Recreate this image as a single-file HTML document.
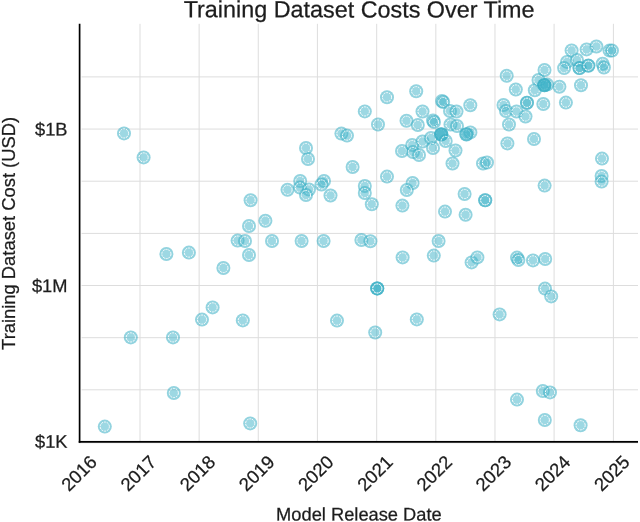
<!DOCTYPE html>
<html lang="en"><head><meta charset="utf-8"><title>Training Dataset Costs Over Time</title>
<style>html,body{margin:0;padding:0;background:#fff}svg{display:block}text{font-family:"Liberation Sans",Arial,Helvetica,sans-serif;fill:#1c1c1c;stroke:#1c1c1c;stroke-width:0.25px}</style></head><body>
<svg width="640" height="522" viewBox="0 0 640 522">
<rect width="640" height="522" fill="#fff"/>
<g stroke="#dddddd" stroke-width="1" fill="none">
<line x1="140" y1="23.8" x2="140" y2="442.0"/>
<line x1="199.13" y1="23.8" x2="199.13" y2="442.0"/>
<line x1="258.27" y1="23.8" x2="258.27" y2="442.0"/>
<line x1="317.4" y1="23.8" x2="317.4" y2="442.0"/>
<line x1="376.7" y1="23.8" x2="376.7" y2="442.0"/>
<line x1="435.83" y1="23.8" x2="435.83" y2="442.0"/>
<line x1="494.97" y1="23.8" x2="494.97" y2="442.0"/>
<line x1="554.1" y1="23.8" x2="554.1" y2="442.0"/>
<line x1="613.4" y1="23.8" x2="613.4" y2="442.0"/>
<line x1="81.6" y1="76.9" x2="638" y2="76.9"/>
<line x1="81.6" y1="129.06" x2="638" y2="129.06"/>
<line x1="81.6" y1="181.2" x2="638" y2="181.2"/>
<line x1="81.6" y1="233.4" x2="638" y2="233.4"/>
<line x1="81.6" y1="285.5" x2="638" y2="285.5"/>
<line x1="81.6" y1="337.7" x2="638" y2="337.7"/>
<line x1="81.6" y1="389.8" x2="638" y2="389.8"/>
</g>
<g>
<g transform="translate(124,133.4)"><circle r="7" fill="#3bb1c7" fill-opacity="0.5"/><circle r="5.75" fill="none" stroke="#2aa6c0" stroke-width="2.3" stroke-opacity="0.09"/><circle r="4.6" fill="none" stroke="#fff" stroke-width="1" stroke-dasharray="2 0.89" stroke-opacity="1"/></g>
<g transform="translate(143.6,157.4)"><circle r="7" fill="#3bb1c7" fill-opacity="0.5"/><circle r="5.75" fill="none" stroke="#2aa6c0" stroke-width="2.3" stroke-opacity="0.09"/><circle r="4.6" fill="none" stroke="#fff" stroke-width="1" stroke-dasharray="2 0.89" stroke-opacity="1"/></g>
<g transform="translate(166.4,254)"><circle r="7" fill="#3bb1c7" fill-opacity="0.5"/><circle r="5.75" fill="none" stroke="#2aa6c0" stroke-width="2.3" stroke-opacity="0.09"/><circle r="4.6" fill="none" stroke="#fff" stroke-width="1" stroke-dasharray="2 0.89" stroke-opacity="1"/></g>
<g transform="translate(188.9,252.6)"><circle r="7" fill="#3bb1c7" fill-opacity="0.5"/><circle r="5.75" fill="none" stroke="#2aa6c0" stroke-width="2.3" stroke-opacity="0.09"/><circle r="4.6" fill="none" stroke="#fff" stroke-width="1" stroke-dasharray="2 0.89" stroke-opacity="1"/></g>
<g transform="translate(130.8,337.4)"><circle r="7" fill="#3bb1c7" fill-opacity="0.5"/><circle r="5.75" fill="none" stroke="#2aa6c0" stroke-width="2.3" stroke-opacity="0.09"/><circle r="4.6" fill="none" stroke="#fff" stroke-width="1" stroke-dasharray="2 0.89" stroke-opacity="1"/></g>
<g transform="translate(173,337.4)"><circle r="7" fill="#3bb1c7" fill-opacity="0.5"/><circle r="5.75" fill="none" stroke="#2aa6c0" stroke-width="2.3" stroke-opacity="0.09"/><circle r="4.6" fill="none" stroke="#fff" stroke-width="1" stroke-dasharray="2 0.89" stroke-opacity="1"/></g>
<g transform="translate(173.8,393)"><circle r="7" fill="#3bb1c7" fill-opacity="0.5"/><circle r="5.75" fill="none" stroke="#2aa6c0" stroke-width="2.3" stroke-opacity="0.09"/><circle r="4.6" fill="none" stroke="#fff" stroke-width="1" stroke-dasharray="2 0.89" stroke-opacity="1"/></g>
<g transform="translate(104.8,426.6)"><circle r="7" fill="#3bb1c7" fill-opacity="0.5"/><circle r="5.75" fill="none" stroke="#2aa6c0" stroke-width="2.3" stroke-opacity="0.09"/><circle r="4.6" fill="none" stroke="#fff" stroke-width="1" stroke-dasharray="2 0.89" stroke-opacity="1"/></g>
<g transform="translate(306,148)"><circle r="7" fill="#3bb1c7" fill-opacity="0.5"/><circle r="5.75" fill="none" stroke="#2aa6c0" stroke-width="2.3" stroke-opacity="0.09"/><circle r="4.6" fill="none" stroke="#fff" stroke-width="1" stroke-dasharray="2 0.89" stroke-opacity="1"/></g>
<g transform="translate(308,159)"><circle r="7" fill="#3bb1c7" fill-opacity="0.5"/><circle r="5.75" fill="none" stroke="#2aa6c0" stroke-width="2.3" stroke-opacity="0.09"/><circle r="4.6" fill="none" stroke="#fff" stroke-width="1" stroke-dasharray="2 0.89" stroke-opacity="1"/></g>
<g transform="translate(300.2,181)"><circle r="7" fill="#3bb1c7" fill-opacity="0.5"/><circle r="5.75" fill="none" stroke="#2aa6c0" stroke-width="2.3" stroke-opacity="0.09"/><circle r="4.6" fill="none" stroke="#fff" stroke-width="1" stroke-dasharray="2 0.89" stroke-opacity="1"/></g>
<g transform="translate(287.5,189.8)"><circle r="7" fill="#3bb1c7" fill-opacity="0.5"/><circle r="5.75" fill="none" stroke="#2aa6c0" stroke-width="2.3" stroke-opacity="0.09"/><circle r="4.6" fill="none" stroke="#fff" stroke-width="1" stroke-dasharray="2 0.89" stroke-opacity="1"/></g>
<g transform="translate(300,187.5)"><circle r="7" fill="#3bb1c7" fill-opacity="0.5"/><circle r="5.75" fill="none" stroke="#2aa6c0" stroke-width="2.3" stroke-opacity="0.09"/><circle r="4.6" fill="none" stroke="#fff" stroke-width="1" stroke-dasharray="2 0.89" stroke-opacity="1"/></g>
<g transform="translate(309,189.5)"><circle r="7" fill="#3bb1c7" fill-opacity="0.5"/><circle r="5.75" fill="none" stroke="#2aa6c0" stroke-width="2.3" stroke-opacity="0.09"/><circle r="4.6" fill="none" stroke="#fff" stroke-width="1" stroke-dasharray="2 0.89" stroke-opacity="1"/></g>
<g transform="translate(306,195)"><circle r="7" fill="#3bb1c7" fill-opacity="0.5"/><circle r="5.75" fill="none" stroke="#2aa6c0" stroke-width="2.3" stroke-opacity="0.09"/><circle r="4.6" fill="none" stroke="#fff" stroke-width="1" stroke-dasharray="2 0.89" stroke-opacity="1"/></g>
<g transform="translate(324,181)"><circle r="7" fill="#3bb1c7" fill-opacity="0.5"/><circle r="5.75" fill="none" stroke="#2aa6c0" stroke-width="2.3" stroke-opacity="0.09"/><circle r="4.6" fill="none" stroke="#fff" stroke-width="1" stroke-dasharray="2 0.89" stroke-opacity="1"/></g>
<g transform="translate(321.5,184.5)"><circle r="7" fill="#3bb1c7" fill-opacity="0.5"/><circle r="5.75" fill="none" stroke="#2aa6c0" stroke-width="2.3" stroke-opacity="0.09"/><circle r="4.6" fill="none" stroke="#fff" stroke-width="1" stroke-dasharray="2 0.89" stroke-opacity="1"/></g>
<g transform="translate(330.5,195.5)"><circle r="7" fill="#3bb1c7" fill-opacity="0.5"/><circle r="5.75" fill="none" stroke="#2aa6c0" stroke-width="2.3" stroke-opacity="0.09"/><circle r="4.6" fill="none" stroke="#fff" stroke-width="1" stroke-dasharray="2 0.89" stroke-opacity="1"/></g>
<g transform="translate(250.6,200.2)"><circle r="7" fill="#3bb1c7" fill-opacity="0.5"/><circle r="5.75" fill="none" stroke="#2aa6c0" stroke-width="2.3" stroke-opacity="0.09"/><circle r="4.6" fill="none" stroke="#fff" stroke-width="1" stroke-dasharray="2 0.89" stroke-opacity="1"/></g>
<g transform="translate(265.4,220.8)"><circle r="7" fill="#3bb1c7" fill-opacity="0.5"/><circle r="5.75" fill="none" stroke="#2aa6c0" stroke-width="2.3" stroke-opacity="0.09"/><circle r="4.6" fill="none" stroke="#fff" stroke-width="1" stroke-dasharray="2 0.89" stroke-opacity="1"/></g>
<g transform="translate(249,226)"><circle r="7" fill="#3bb1c7" fill-opacity="0.5"/><circle r="5.75" fill="none" stroke="#2aa6c0" stroke-width="2.3" stroke-opacity="0.09"/><circle r="4.6" fill="none" stroke="#fff" stroke-width="1" stroke-dasharray="2 0.89" stroke-opacity="1"/></g>
<g transform="translate(237.6,240.6)"><circle r="7" fill="#3bb1c7" fill-opacity="0.5"/><circle r="5.75" fill="none" stroke="#2aa6c0" stroke-width="2.3" stroke-opacity="0.09"/><circle r="4.6" fill="none" stroke="#fff" stroke-width="1" stroke-dasharray="2 0.89" stroke-opacity="1"/></g>
<g transform="translate(245,241)"><circle r="7" fill="#3bb1c7" fill-opacity="0.5"/><circle r="5.75" fill="none" stroke="#2aa6c0" stroke-width="2.3" stroke-opacity="0.09"/><circle r="4.6" fill="none" stroke="#fff" stroke-width="1" stroke-dasharray="2 0.89" stroke-opacity="1"/></g>
<g transform="translate(272,241)"><circle r="7" fill="#3bb1c7" fill-opacity="0.5"/><circle r="5.75" fill="none" stroke="#2aa6c0" stroke-width="2.3" stroke-opacity="0.09"/><circle r="4.6" fill="none" stroke="#fff" stroke-width="1" stroke-dasharray="2 0.89" stroke-opacity="1"/></g>
<g transform="translate(301.6,241)"><circle r="7" fill="#3bb1c7" fill-opacity="0.5"/><circle r="5.75" fill="none" stroke="#2aa6c0" stroke-width="2.3" stroke-opacity="0.09"/><circle r="4.6" fill="none" stroke="#fff" stroke-width="1" stroke-dasharray="2 0.89" stroke-opacity="1"/></g>
<g transform="translate(323.6,241)"><circle r="7" fill="#3bb1c7" fill-opacity="0.5"/><circle r="5.75" fill="none" stroke="#2aa6c0" stroke-width="2.3" stroke-opacity="0.09"/><circle r="4.6" fill="none" stroke="#fff" stroke-width="1" stroke-dasharray="2 0.89" stroke-opacity="1"/></g>
<g transform="translate(249,255)"><circle r="7" fill="#3bb1c7" fill-opacity="0.5"/><circle r="5.75" fill="none" stroke="#2aa6c0" stroke-width="2.3" stroke-opacity="0.09"/><circle r="4.6" fill="none" stroke="#fff" stroke-width="1" stroke-dasharray="2 0.89" stroke-opacity="1"/></g>
<g transform="translate(223.4,268)"><circle r="7" fill="#3bb1c7" fill-opacity="0.5"/><circle r="5.75" fill="none" stroke="#2aa6c0" stroke-width="2.3" stroke-opacity="0.09"/><circle r="4.6" fill="none" stroke="#fff" stroke-width="1" stroke-dasharray="2 0.89" stroke-opacity="1"/></g>
<g transform="translate(212.6,307.4)"><circle r="7" fill="#3bb1c7" fill-opacity="0.5"/><circle r="5.75" fill="none" stroke="#2aa6c0" stroke-width="2.3" stroke-opacity="0.09"/><circle r="4.6" fill="none" stroke="#fff" stroke-width="1" stroke-dasharray="2 0.89" stroke-opacity="1"/></g>
<g transform="translate(202,319.6)"><circle r="7" fill="#3bb1c7" fill-opacity="0.5"/><circle r="5.75" fill="none" stroke="#2aa6c0" stroke-width="2.3" stroke-opacity="0.09"/><circle r="4.6" fill="none" stroke="#fff" stroke-width="1" stroke-dasharray="2 0.89" stroke-opacity="1"/></g>
<g transform="translate(242.8,320.4)"><circle r="7" fill="#3bb1c7" fill-opacity="0.5"/><circle r="5.75" fill="none" stroke="#2aa6c0" stroke-width="2.3" stroke-opacity="0.09"/><circle r="4.6" fill="none" stroke="#fff" stroke-width="1" stroke-dasharray="2 0.89" stroke-opacity="1"/></g>
<g transform="translate(250.2,423.4)"><circle r="7" fill="#3bb1c7" fill-opacity="0.5"/><circle r="5.75" fill="none" stroke="#2aa6c0" stroke-width="2.3" stroke-opacity="0.09"/><circle r="4.6" fill="none" stroke="#fff" stroke-width="1" stroke-dasharray="2 0.89" stroke-opacity="1"/></g>
<g transform="translate(416.2,91.2)"><circle r="7" fill="#3bb1c7" fill-opacity="0.5"/><circle r="5.75" fill="none" stroke="#2aa6c0" stroke-width="2.3" stroke-opacity="0.09"/><circle r="4.6" fill="none" stroke="#fff" stroke-width="1" stroke-dasharray="2 0.89" stroke-opacity="1"/></g>
<g transform="translate(387,97.2)"><circle r="7" fill="#3bb1c7" fill-opacity="0.5"/><circle r="5.75" fill="none" stroke="#2aa6c0" stroke-width="2.3" stroke-opacity="0.09"/><circle r="4.6" fill="none" stroke="#fff" stroke-width="1" stroke-dasharray="2 0.89" stroke-opacity="1"/></g>
<g transform="translate(364.8,111.4)"><circle r="7" fill="#3bb1c7" fill-opacity="0.5"/><circle r="5.75" fill="none" stroke="#2aa6c0" stroke-width="2.3" stroke-opacity="0.09"/><circle r="4.6" fill="none" stroke="#fff" stroke-width="1" stroke-dasharray="2 0.89" stroke-opacity="1"/></g>
<g transform="translate(442,101)"><circle r="7" fill="#3bb1c7" fill-opacity="0.5"/><circle r="5.75" fill="none" stroke="#2aa6c0" stroke-width="2.3" stroke-opacity="0.09"/><circle r="4.6" fill="none" stroke="#fff" stroke-width="1" stroke-dasharray="2 0.89" stroke-opacity="1"/></g>
<g transform="translate(443.2,102)"><circle r="7" fill="#3bb1c7" fill-opacity="0.5"/><circle r="5.75" fill="none" stroke="#2aa6c0" stroke-width="2.3" stroke-opacity="0.09"/><circle r="4.6" fill="none" stroke="#fff" stroke-width="1" stroke-dasharray="2 0.89" stroke-opacity="1"/></g>
<g transform="translate(422.5,111.5)"><circle r="7" fill="#3bb1c7" fill-opacity="0.5"/><circle r="5.75" fill="none" stroke="#2aa6c0" stroke-width="2.3" stroke-opacity="0.09"/><circle r="4.6" fill="none" stroke="#fff" stroke-width="1" stroke-dasharray="2 0.89" stroke-opacity="1"/></g>
<g transform="translate(378,124.5)"><circle r="7" fill="#3bb1c7" fill-opacity="0.5"/><circle r="5.75" fill="none" stroke="#2aa6c0" stroke-width="2.3" stroke-opacity="0.09"/><circle r="4.6" fill="none" stroke="#fff" stroke-width="1" stroke-dasharray="2 0.89" stroke-opacity="1"/></g>
<g transform="translate(406.5,120.8)"><circle r="7" fill="#3bb1c7" fill-opacity="0.5"/><circle r="5.75" fill="none" stroke="#2aa6c0" stroke-width="2.3" stroke-opacity="0.09"/><circle r="4.6" fill="none" stroke="#fff" stroke-width="1" stroke-dasharray="2 0.89" stroke-opacity="1"/></g>
<g transform="translate(417.8,125)"><circle r="7" fill="#3bb1c7" fill-opacity="0.5"/><circle r="5.75" fill="none" stroke="#2aa6c0" stroke-width="2.3" stroke-opacity="0.09"/><circle r="4.6" fill="none" stroke="#fff" stroke-width="1" stroke-dasharray="2 0.89" stroke-opacity="1"/></g>
<g transform="translate(433,120.5)"><circle r="7" fill="#3bb1c7" fill-opacity="0.5"/><circle r="5.75" fill="none" stroke="#2aa6c0" stroke-width="2.3" stroke-opacity="0.09"/><circle r="4.6" fill="none" stroke="#fff" stroke-width="1" stroke-dasharray="2 0.89" stroke-opacity="1"/></g>
<g transform="translate(434,122)"><circle r="7" fill="#3bb1c7" fill-opacity="0.5"/><circle r="5.75" fill="none" stroke="#2aa6c0" stroke-width="2.3" stroke-opacity="0.09"/><circle r="4.6" fill="none" stroke="#fff" stroke-width="1" stroke-dasharray="2 0.89" stroke-opacity="1"/></g>
<g transform="translate(450,111)"><circle r="7" fill="#3bb1c7" fill-opacity="0.5"/><circle r="5.75" fill="none" stroke="#2aa6c0" stroke-width="2.3" stroke-opacity="0.09"/><circle r="4.6" fill="none" stroke="#fff" stroke-width="1" stroke-dasharray="2 0.89" stroke-opacity="1"/></g>
<g transform="translate(456.5,111.5)"><circle r="7" fill="#3bb1c7" fill-opacity="0.5"/><circle r="5.75" fill="none" stroke="#2aa6c0" stroke-width="2.3" stroke-opacity="0.09"/><circle r="4.6" fill="none" stroke="#fff" stroke-width="1" stroke-dasharray="2 0.89" stroke-opacity="1"/></g>
<g transform="translate(450.5,124.5)"><circle r="7" fill="#3bb1c7" fill-opacity="0.5"/><circle r="5.75" fill="none" stroke="#2aa6c0" stroke-width="2.3" stroke-opacity="0.09"/><circle r="4.6" fill="none" stroke="#fff" stroke-width="1" stroke-dasharray="2 0.89" stroke-opacity="1"/></g>
<g transform="translate(457,126)"><circle r="7" fill="#3bb1c7" fill-opacity="0.5"/><circle r="5.75" fill="none" stroke="#2aa6c0" stroke-width="2.3" stroke-opacity="0.09"/><circle r="4.6" fill="none" stroke="#fff" stroke-width="1" stroke-dasharray="2 0.89" stroke-opacity="1"/></g>
<g transform="translate(470.3,105.2)"><circle r="7" fill="#3bb1c7" fill-opacity="0.5"/><circle r="5.75" fill="none" stroke="#2aa6c0" stroke-width="2.3" stroke-opacity="0.09"/><circle r="4.6" fill="none" stroke="#fff" stroke-width="1" stroke-dasharray="2 0.89" stroke-opacity="1"/></g>
<g transform="translate(341.4,133.6)"><circle r="7" fill="#3bb1c7" fill-opacity="0.5"/><circle r="5.75" fill="none" stroke="#2aa6c0" stroke-width="2.3" stroke-opacity="0.09"/><circle r="4.6" fill="none" stroke="#fff" stroke-width="1" stroke-dasharray="2 0.89" stroke-opacity="1"/></g>
<g transform="translate(347,135.6)"><circle r="7" fill="#3bb1c7" fill-opacity="0.5"/><circle r="5.75" fill="none" stroke="#2aa6c0" stroke-width="2.3" stroke-opacity="0.09"/><circle r="4.6" fill="none" stroke="#fff" stroke-width="1" stroke-dasharray="2 0.89" stroke-opacity="1"/></g>
<g transform="translate(352.6,167)"><circle r="7" fill="#3bb1c7" fill-opacity="0.5"/><circle r="5.75" fill="none" stroke="#2aa6c0" stroke-width="2.3" stroke-opacity="0.09"/><circle r="4.6" fill="none" stroke="#fff" stroke-width="1" stroke-dasharray="2 0.89" stroke-opacity="1"/></g>
<g transform="translate(364.8,186)"><circle r="7" fill="#3bb1c7" fill-opacity="0.5"/><circle r="5.75" fill="none" stroke="#2aa6c0" stroke-width="2.3" stroke-opacity="0.09"/><circle r="4.6" fill="none" stroke="#fff" stroke-width="1" stroke-dasharray="2 0.89" stroke-opacity="1"/></g>
<g transform="translate(364.8,193)"><circle r="7" fill="#3bb1c7" fill-opacity="0.5"/><circle r="5.75" fill="none" stroke="#2aa6c0" stroke-width="2.3" stroke-opacity="0.09"/><circle r="4.6" fill="none" stroke="#fff" stroke-width="1" stroke-dasharray="2 0.89" stroke-opacity="1"/></g>
<g transform="translate(371.8,204.2)"><circle r="7" fill="#3bb1c7" fill-opacity="0.5"/><circle r="5.75" fill="none" stroke="#2aa6c0" stroke-width="2.3" stroke-opacity="0.09"/><circle r="4.6" fill="none" stroke="#fff" stroke-width="1" stroke-dasharray="2 0.89" stroke-opacity="1"/></g>
<g transform="translate(387,176.6)"><circle r="7" fill="#3bb1c7" fill-opacity="0.5"/><circle r="5.75" fill="none" stroke="#2aa6c0" stroke-width="2.3" stroke-opacity="0.09"/><circle r="4.6" fill="none" stroke="#fff" stroke-width="1" stroke-dasharray="2 0.89" stroke-opacity="1"/></g>
<g transform="translate(412.6,183)"><circle r="7" fill="#3bb1c7" fill-opacity="0.5"/><circle r="5.75" fill="none" stroke="#2aa6c0" stroke-width="2.3" stroke-opacity="0.09"/><circle r="4.6" fill="none" stroke="#fff" stroke-width="1" stroke-dasharray="2 0.89" stroke-opacity="1"/></g>
<g transform="translate(406.8,190)"><circle r="7" fill="#3bb1c7" fill-opacity="0.5"/><circle r="5.75" fill="none" stroke="#2aa6c0" stroke-width="2.3" stroke-opacity="0.09"/><circle r="4.6" fill="none" stroke="#fff" stroke-width="1" stroke-dasharray="2 0.89" stroke-opacity="1"/></g>
<g transform="translate(402.4,205.6)"><circle r="7" fill="#3bb1c7" fill-opacity="0.5"/><circle r="5.75" fill="none" stroke="#2aa6c0" stroke-width="2.3" stroke-opacity="0.09"/><circle r="4.6" fill="none" stroke="#fff" stroke-width="1" stroke-dasharray="2 0.89" stroke-opacity="1"/></g>
<g transform="translate(445,211.6)"><circle r="7" fill="#3bb1c7" fill-opacity="0.5"/><circle r="5.75" fill="none" stroke="#2aa6c0" stroke-width="2.3" stroke-opacity="0.09"/><circle r="4.6" fill="none" stroke="#fff" stroke-width="1" stroke-dasharray="2 0.89" stroke-opacity="1"/></g>
<g transform="translate(402,151)"><circle r="7" fill="#3bb1c7" fill-opacity="0.5"/><circle r="5.75" fill="none" stroke="#2aa6c0" stroke-width="2.3" stroke-opacity="0.09"/><circle r="4.6" fill="none" stroke="#fff" stroke-width="1" stroke-dasharray="2 0.89" stroke-opacity="1"/></g>
<g transform="translate(412.2,145)"><circle r="7" fill="#3bb1c7" fill-opacity="0.5"/><circle r="5.75" fill="none" stroke="#2aa6c0" stroke-width="2.3" stroke-opacity="0.09"/><circle r="4.6" fill="none" stroke="#fff" stroke-width="1" stroke-dasharray="2 0.89" stroke-opacity="1"/></g>
<g transform="translate(413,152)"><circle r="7" fill="#3bb1c7" fill-opacity="0.5"/><circle r="5.75" fill="none" stroke="#2aa6c0" stroke-width="2.3" stroke-opacity="0.09"/><circle r="4.6" fill="none" stroke="#fff" stroke-width="1" stroke-dasharray="2 0.89" stroke-opacity="1"/></g>
<g transform="translate(419,155)"><circle r="7" fill="#3bb1c7" fill-opacity="0.5"/><circle r="5.75" fill="none" stroke="#2aa6c0" stroke-width="2.3" stroke-opacity="0.09"/><circle r="4.6" fill="none" stroke="#fff" stroke-width="1" stroke-dasharray="2 0.89" stroke-opacity="1"/></g>
<g transform="translate(422.5,141.5)"><circle r="7" fill="#3bb1c7" fill-opacity="0.5"/><circle r="5.75" fill="none" stroke="#2aa6c0" stroke-width="2.3" stroke-opacity="0.09"/><circle r="4.6" fill="none" stroke="#fff" stroke-width="1" stroke-dasharray="2 0.89" stroke-opacity="1"/></g>
<g transform="translate(431,138)"><circle r="7" fill="#3bb1c7" fill-opacity="0.5"/><circle r="5.75" fill="none" stroke="#2aa6c0" stroke-width="2.3" stroke-opacity="0.09"/><circle r="4.6" fill="none" stroke="#fff" stroke-width="1" stroke-dasharray="2 0.89" stroke-opacity="1"/></g>
<g transform="translate(433,148)"><circle r="7" fill="#3bb1c7" fill-opacity="0.5"/><circle r="5.75" fill="none" stroke="#2aa6c0" stroke-width="2.3" stroke-opacity="0.09"/><circle r="4.6" fill="none" stroke="#fff" stroke-width="1" stroke-dasharray="2 0.89" stroke-opacity="1"/></g>
<g transform="translate(441,134.2)"><circle r="7" fill="#3bb1c7" fill-opacity="0.5"/><circle r="5.75" fill="none" stroke="#2aa6c0" stroke-width="2.3" stroke-opacity="0.09"/><circle r="4.6" fill="none" stroke="#fff" stroke-width="1" stroke-dasharray="2 0.89" stroke-opacity="1"/></g>
<g transform="translate(441.3,134.5)"><circle r="7" fill="#3bb1c7" fill-opacity="0.5"/><circle r="5.75" fill="none" stroke="#2aa6c0" stroke-width="2.3" stroke-opacity="0.09"/></g>
<g transform="translate(441.4,134.4)"><circle r="7" fill="#3bb1c7" fill-opacity="0.5"/><circle r="5.75" fill="none" stroke="#2aa6c0" stroke-width="2.3" stroke-opacity="0.09"/></g>
<g transform="translate(445.7,141)"><circle r="7" fill="#3bb1c7" fill-opacity="0.5"/><circle r="5.75" fill="none" stroke="#2aa6c0" stroke-width="2.3" stroke-opacity="0.09"/><circle r="4.6" fill="none" stroke="#fff" stroke-width="1" stroke-dasharray="2 0.89" stroke-opacity="1"/></g>
<g transform="translate(455.5,150.5)"><circle r="7" fill="#3bb1c7" fill-opacity="0.5"/><circle r="5.75" fill="none" stroke="#2aa6c0" stroke-width="2.3" stroke-opacity="0.09"/><circle r="4.6" fill="none" stroke="#fff" stroke-width="1" stroke-dasharray="2 0.89" stroke-opacity="1"/></g>
<g transform="translate(452.5,163.5)"><circle r="7" fill="#3bb1c7" fill-opacity="0.5"/><circle r="5.75" fill="none" stroke="#2aa6c0" stroke-width="2.3" stroke-opacity="0.09"/><circle r="4.6" fill="none" stroke="#fff" stroke-width="1" stroke-dasharray="2 0.89" stroke-opacity="1"/></g>
<g transform="translate(470.4,132.4)"><circle r="7" fill="#3bb1c7" fill-opacity="0.5"/><circle r="5.75" fill="none" stroke="#2aa6c0" stroke-width="2.3" stroke-opacity="0.09"/><circle r="4.6" fill="none" stroke="#fff" stroke-width="1" stroke-dasharray="2 0.89" stroke-opacity="1"/></g>
<g transform="translate(466.3,134.3)"><circle r="7" fill="#3bb1c7" fill-opacity="0.5"/><circle r="5.75" fill="none" stroke="#2aa6c0" stroke-width="2.3" stroke-opacity="0.09"/><circle r="4.6" fill="none" stroke="#fff" stroke-width="1" stroke-dasharray="2 0.89" stroke-opacity="1"/></g>
<g transform="translate(466.5,134.5)"><circle r="7" fill="#3bb1c7" fill-opacity="0.5"/><circle r="5.75" fill="none" stroke="#2aa6c0" stroke-width="2.3" stroke-opacity="0.09"/></g>
<g transform="translate(483,163.5)"><circle r="7" fill="#3bb1c7" fill-opacity="0.5"/><circle r="5.75" fill="none" stroke="#2aa6c0" stroke-width="2.3" stroke-opacity="0.09"/><circle r="4.6" fill="none" stroke="#fff" stroke-width="1" stroke-dasharray="2 0.89" stroke-opacity="1"/></g>
<g transform="translate(487,162.5)"><circle r="7" fill="#3bb1c7" fill-opacity="0.5"/><circle r="5.75" fill="none" stroke="#2aa6c0" stroke-width="2.3" stroke-opacity="0.09"/><circle r="4.6" fill="none" stroke="#fff" stroke-width="1" stroke-dasharray="2 0.89" stroke-opacity="1"/></g>
<g transform="translate(361.4,240)"><circle r="7" fill="#3bb1c7" fill-opacity="0.5"/><circle r="5.75" fill="none" stroke="#2aa6c0" stroke-width="2.3" stroke-opacity="0.09"/><circle r="4.6" fill="none" stroke="#fff" stroke-width="1" stroke-dasharray="2 0.89" stroke-opacity="1"/></g>
<g transform="translate(370.4,241.2)"><circle r="7" fill="#3bb1c7" fill-opacity="0.5"/><circle r="5.75" fill="none" stroke="#2aa6c0" stroke-width="2.3" stroke-opacity="0.09"/><circle r="4.6" fill="none" stroke="#fff" stroke-width="1" stroke-dasharray="2 0.89" stroke-opacity="1"/></g>
<g transform="translate(438.6,241)"><circle r="7" fill="#3bb1c7" fill-opacity="0.5"/><circle r="5.75" fill="none" stroke="#2aa6c0" stroke-width="2.3" stroke-opacity="0.09"/><circle r="4.6" fill="none" stroke="#fff" stroke-width="1" stroke-dasharray="2 0.89" stroke-opacity="1"/></g>
<g transform="translate(402.6,257.4)"><circle r="7" fill="#3bb1c7" fill-opacity="0.5"/><circle r="5.75" fill="none" stroke="#2aa6c0" stroke-width="2.3" stroke-opacity="0.09"/><circle r="4.6" fill="none" stroke="#fff" stroke-width="1" stroke-dasharray="2 0.89" stroke-opacity="1"/></g>
<g transform="translate(433.8,255.6)"><circle r="7" fill="#3bb1c7" fill-opacity="0.5"/><circle r="5.75" fill="none" stroke="#2aa6c0" stroke-width="2.3" stroke-opacity="0.09"/><circle r="4.6" fill="none" stroke="#fff" stroke-width="1" stroke-dasharray="2 0.89" stroke-opacity="1"/></g>
<g transform="translate(377.2,288.4)"><circle r="7" fill="#3bb1c7" fill-opacity="0.5"/><circle r="5.75" fill="none" stroke="#2aa6c0" stroke-width="2.3" stroke-opacity="0.09"/><circle r="4.6" fill="none" stroke="#fff" stroke-width="1" stroke-dasharray="2 0.89" stroke-opacity="1"/></g>
<g transform="translate(377.2,288.4)"><circle r="7" fill="#3bb1c7" fill-opacity="0.5"/><circle r="5.75" fill="none" stroke="#2aa6c0" stroke-width="2.3" stroke-opacity="0.09"/><circle r="4.6" fill="none" stroke="#fff" stroke-width="1" stroke-dasharray="2 0.89" stroke-opacity="1"/></g>
<g transform="translate(377.3,288.5)"><circle r="7" fill="#3bb1c7" fill-opacity="0.5"/><circle r="5.75" fill="none" stroke="#2aa6c0" stroke-width="2.3" stroke-opacity="0.09"/><circle r="4.6" fill="none" stroke="#fff" stroke-width="1" stroke-dasharray="2 0.89" stroke-opacity="1"/></g>
<g transform="translate(337,320.6)"><circle r="7" fill="#3bb1c7" fill-opacity="0.5"/><circle r="5.75" fill="none" stroke="#2aa6c0" stroke-width="2.3" stroke-opacity="0.09"/><circle r="4.6" fill="none" stroke="#fff" stroke-width="1" stroke-dasharray="2 0.89" stroke-opacity="1"/></g>
<g transform="translate(416.8,319.4)"><circle r="7" fill="#3bb1c7" fill-opacity="0.5"/><circle r="5.75" fill="none" stroke="#2aa6c0" stroke-width="2.3" stroke-opacity="0.09"/><circle r="4.6" fill="none" stroke="#fff" stroke-width="1" stroke-dasharray="2 0.89" stroke-opacity="1"/></g>
<g transform="translate(375.2,332.5)"><circle r="7" fill="#3bb1c7" fill-opacity="0.5"/><circle r="5.75" fill="none" stroke="#2aa6c0" stroke-width="2.3" stroke-opacity="0.09"/><circle r="4.6" fill="none" stroke="#fff" stroke-width="1" stroke-dasharray="2 0.89" stroke-opacity="1"/></g>
<g transform="translate(506.7,75.8)"><circle r="7" fill="#3bb1c7" fill-opacity="0.5"/><circle r="5.75" fill="none" stroke="#2aa6c0" stroke-width="2.3" stroke-opacity="0.09"/><circle r="4.6" fill="none" stroke="#fff" stroke-width="1" stroke-dasharray="2 0.89" stroke-opacity="1"/></g>
<g transform="translate(515.8,89.5)"><circle r="7" fill="#3bb1c7" fill-opacity="0.5"/><circle r="5.75" fill="none" stroke="#2aa6c0" stroke-width="2.3" stroke-opacity="0.09"/><circle r="4.6" fill="none" stroke="#fff" stroke-width="1" stroke-dasharray="2 0.89" stroke-opacity="1"/></g>
<g transform="translate(527,102.8)"><circle r="7" fill="#3bb1c7" fill-opacity="0.5"/><circle r="5.75" fill="none" stroke="#2aa6c0" stroke-width="2.3" stroke-opacity="0.09"/><circle r="4.6" fill="none" stroke="#fff" stroke-width="1" stroke-dasharray="2 0.89" stroke-opacity="1"/></g>
<g transform="translate(527,102.8)"><circle r="7" fill="#3bb1c7" fill-opacity="0.5"/><circle r="5.75" fill="none" stroke="#2aa6c0" stroke-width="2.3" stroke-opacity="0.09"/><circle r="4.6" fill="none" stroke="#fff" stroke-width="1" stroke-dasharray="2 0.89" stroke-opacity="1"/></g>
<g transform="translate(543.3,104)"><circle r="7" fill="#3bb1c7" fill-opacity="0.5"/><circle r="5.75" fill="none" stroke="#2aa6c0" stroke-width="2.3" stroke-opacity="0.09"/><circle r="4.6" fill="none" stroke="#fff" stroke-width="1" stroke-dasharray="2 0.89" stroke-opacity="1"/></g>
<g transform="translate(534.8,90.2)"><circle r="7" fill="#3bb1c7" fill-opacity="0.5"/><circle r="5.75" fill="none" stroke="#2aa6c0" stroke-width="2.3" stroke-opacity="0.09"/><circle r="4.6" fill="none" stroke="#fff" stroke-width="1" stroke-dasharray="2 0.89" stroke-opacity="1"/></g>
<g transform="translate(538.5,80)"><circle r="7" fill="#3bb1c7" fill-opacity="0.5"/><circle r="5.75" fill="none" stroke="#2aa6c0" stroke-width="2.3" stroke-opacity="0.09"/><circle r="4.6" fill="none" stroke="#fff" stroke-width="1" stroke-dasharray="2 0.89" stroke-opacity="1"/></g>
<g transform="translate(544.5,70)"><circle r="7" fill="#3bb1c7" fill-opacity="0.5"/><circle r="5.75" fill="none" stroke="#2aa6c0" stroke-width="2.3" stroke-opacity="0.09"/><circle r="4.6" fill="none" stroke="#fff" stroke-width="1" stroke-dasharray="2 0.89" stroke-opacity="1"/></g>
<g transform="translate(547.2,84.6)"><circle r="7" fill="#3bb1c7" fill-opacity="0.5"/><circle r="5.75" fill="none" stroke="#2aa6c0" stroke-width="2.3" stroke-opacity="0.09"/><circle r="4.6" fill="none" stroke="#fff" stroke-width="1" stroke-dasharray="2 0.89" stroke-opacity="1"/></g>
<g transform="translate(544.2,85.1)"><circle r="7" fill="#3bb1c7" fill-opacity="0.5"/><circle r="5.75" fill="none" stroke="#2aa6c0" stroke-width="2.3" stroke-opacity="0.09"/><circle r="4.6" fill="none" stroke="#fff" stroke-width="1" stroke-dasharray="2 0.89" stroke-opacity="1"/></g>
<g transform="translate(544.4,85.3)"><circle r="7" fill="#3bb1c7" fill-opacity="0.5"/><circle r="5.75" fill="none" stroke="#2aa6c0" stroke-width="2.3" stroke-opacity="0.09"/></g>
<g transform="translate(544.5,85.2)"><circle r="7" fill="#3bb1c7" fill-opacity="0.5"/><circle r="5.75" fill="none" stroke="#2aa6c0" stroke-width="2.3" stroke-opacity="0.09"/></g>
<g transform="translate(559.4,86.7)"><circle r="7" fill="#3bb1c7" fill-opacity="0.5"/><circle r="5.75" fill="none" stroke="#2aa6c0" stroke-width="2.3" stroke-opacity="0.09"/><circle r="4.6" fill="none" stroke="#fff" stroke-width="1" stroke-dasharray="2 0.89" stroke-opacity="1"/></g>
<g transform="translate(503.5,105)"><circle r="7" fill="#3bb1c7" fill-opacity="0.5"/><circle r="5.75" fill="none" stroke="#2aa6c0" stroke-width="2.3" stroke-opacity="0.09"/><circle r="4.6" fill="none" stroke="#fff" stroke-width="1" stroke-dasharray="2 0.89" stroke-opacity="1"/></g>
<g transform="translate(506,111)"><circle r="7" fill="#3bb1c7" fill-opacity="0.5"/><circle r="5.75" fill="none" stroke="#2aa6c0" stroke-width="2.3" stroke-opacity="0.09"/><circle r="4.6" fill="none" stroke="#fff" stroke-width="1" stroke-dasharray="2 0.89" stroke-opacity="1"/></g>
<g transform="translate(516.5,111.5)"><circle r="7" fill="#3bb1c7" fill-opacity="0.5"/><circle r="5.75" fill="none" stroke="#2aa6c0" stroke-width="2.3" stroke-opacity="0.09"/><circle r="4.6" fill="none" stroke="#fff" stroke-width="1" stroke-dasharray="2 0.89" stroke-opacity="1"/></g>
<g transform="translate(525.5,116.5)"><circle r="7" fill="#3bb1c7" fill-opacity="0.5"/><circle r="5.75" fill="none" stroke="#2aa6c0" stroke-width="2.3" stroke-opacity="0.09"/><circle r="4.6" fill="none" stroke="#fff" stroke-width="1" stroke-dasharray="2 0.89" stroke-opacity="1"/></g>
<g transform="translate(565.9,102.6)"><circle r="7" fill="#3bb1c7" fill-opacity="0.5"/><circle r="5.75" fill="none" stroke="#2aa6c0" stroke-width="2.3" stroke-opacity="0.09"/><circle r="4.6" fill="none" stroke="#fff" stroke-width="1" stroke-dasharray="2 0.89" stroke-opacity="1"/></g>
<g transform="translate(581,85.2)"><circle r="7" fill="#3bb1c7" fill-opacity="0.5"/><circle r="5.75" fill="none" stroke="#2aa6c0" stroke-width="2.3" stroke-opacity="0.09"/><circle r="4.6" fill="none" stroke="#fff" stroke-width="1" stroke-dasharray="2 0.89" stroke-opacity="1"/></g>
<g transform="translate(571.6,50.4)"><circle r="7" fill="#3bb1c7" fill-opacity="0.5"/><circle r="5.75" fill="none" stroke="#2aa6c0" stroke-width="2.3" stroke-opacity="0.09"/><circle r="4.6" fill="none" stroke="#fff" stroke-width="1" stroke-dasharray="2 0.89" stroke-opacity="1"/></g>
<g transform="translate(586.6,49.4)"><circle r="7" fill="#3bb1c7" fill-opacity="0.5"/><circle r="5.75" fill="none" stroke="#2aa6c0" stroke-width="2.3" stroke-opacity="0.09"/><circle r="4.6" fill="none" stroke="#fff" stroke-width="1" stroke-dasharray="2 0.89" stroke-opacity="1"/></g>
<g transform="translate(596.4,46.5)"><circle r="7" fill="#3bb1c7" fill-opacity="0.5"/><circle r="5.75" fill="none" stroke="#2aa6c0" stroke-width="2.3" stroke-opacity="0.09"/><circle r="4.6" fill="none" stroke="#fff" stroke-width="1" stroke-dasharray="2 0.89" stroke-opacity="1"/></g>
<g transform="translate(609.5,50.6)"><circle r="7" fill="#3bb1c7" fill-opacity="0.5"/><circle r="5.75" fill="none" stroke="#2aa6c0" stroke-width="2.3" stroke-opacity="0.09"/><circle r="4.6" fill="none" stroke="#fff" stroke-width="1" stroke-dasharray="2 0.89" stroke-opacity="1"/></g>
<g transform="translate(612,50.6)"><circle r="7" fill="#3bb1c7" fill-opacity="0.5"/><circle r="5.75" fill="none" stroke="#2aa6c0" stroke-width="2.3" stroke-opacity="0.09"/><circle r="4.6" fill="none" stroke="#fff" stroke-width="1" stroke-dasharray="2 0.89" stroke-opacity="1"/></g>
<g transform="translate(567,61.9)"><circle r="7" fill="#3bb1c7" fill-opacity="0.5"/><circle r="5.75" fill="none" stroke="#2aa6c0" stroke-width="2.3" stroke-opacity="0.09"/><circle r="4.6" fill="none" stroke="#fff" stroke-width="1" stroke-dasharray="2 0.89" stroke-opacity="1"/></g>
<g transform="translate(577,60)"><circle r="7" fill="#3bb1c7" fill-opacity="0.5"/><circle r="5.75" fill="none" stroke="#2aa6c0" stroke-width="2.3" stroke-opacity="0.09"/><circle r="4.6" fill="none" stroke="#fff" stroke-width="1" stroke-dasharray="2 0.89" stroke-opacity="1"/></g>
<g transform="translate(564.1,68.1)"><circle r="7" fill="#3bb1c7" fill-opacity="0.5"/><circle r="5.75" fill="none" stroke="#2aa6c0" stroke-width="2.3" stroke-opacity="0.09"/><circle r="4.6" fill="none" stroke="#fff" stroke-width="1" stroke-dasharray="2 0.89" stroke-opacity="1"/></g>
<g transform="translate(579.5,68.1)"><circle r="7" fill="#3bb1c7" fill-opacity="0.5"/><circle r="5.75" fill="none" stroke="#2aa6c0" stroke-width="2.3" stroke-opacity="0.09"/><circle r="4.6" fill="none" stroke="#fff" stroke-width="1" stroke-dasharray="2 0.89" stroke-opacity="1"/></g>
<g transform="translate(579.5,68.1)"><circle r="7" fill="#3bb1c7" fill-opacity="0.5"/><circle r="5.75" fill="none" stroke="#2aa6c0" stroke-width="2.3" stroke-opacity="0.09"/><circle r="4.6" fill="none" stroke="#fff" stroke-width="1" stroke-dasharray="2 0.89" stroke-opacity="1"/></g>
<g transform="translate(588.3,65.6)"><circle r="7" fill="#3bb1c7" fill-opacity="0.5"/><circle r="5.75" fill="none" stroke="#2aa6c0" stroke-width="2.3" stroke-opacity="0.09"/><circle r="4.6" fill="none" stroke="#fff" stroke-width="1" stroke-dasharray="2 0.89" stroke-opacity="1"/></g>
<g transform="translate(588.4,65.7)"><circle r="7" fill="#3bb1c7" fill-opacity="0.5"/><circle r="5.75" fill="none" stroke="#2aa6c0" stroke-width="2.3" stroke-opacity="0.09"/><circle r="4.6" fill="none" stroke="#fff" stroke-width="1" stroke-dasharray="2 0.89" stroke-opacity="1"/></g>
<g transform="translate(602.6,63.75)"><circle r="7" fill="#3bb1c7" fill-opacity="0.5"/><circle r="5.75" fill="none" stroke="#2aa6c0" stroke-width="2.3" stroke-opacity="0.09"/><circle r="4.6" fill="none" stroke="#fff" stroke-width="1" stroke-dasharray="2 0.89" stroke-opacity="1"/></g>
<g transform="translate(603.9,67.5)"><circle r="7" fill="#3bb1c7" fill-opacity="0.5"/><circle r="5.75" fill="none" stroke="#2aa6c0" stroke-width="2.3" stroke-opacity="0.09"/><circle r="4.6" fill="none" stroke="#fff" stroke-width="1" stroke-dasharray="2 0.89" stroke-opacity="1"/></g>
<g transform="translate(509,124.5)"><circle r="7" fill="#3bb1c7" fill-opacity="0.5"/><circle r="5.75" fill="none" stroke="#2aa6c0" stroke-width="2.3" stroke-opacity="0.09"/><circle r="4.6" fill="none" stroke="#fff" stroke-width="1" stroke-dasharray="2 0.89" stroke-opacity="1"/></g>
<g transform="translate(507.4,143.4)"><circle r="7" fill="#3bb1c7" fill-opacity="0.5"/><circle r="5.75" fill="none" stroke="#2aa6c0" stroke-width="2.3" stroke-opacity="0.09"/><circle r="4.6" fill="none" stroke="#fff" stroke-width="1" stroke-dasharray="2 0.89" stroke-opacity="1"/></g>
<g transform="translate(534,139)"><circle r="7" fill="#3bb1c7" fill-opacity="0.5"/><circle r="5.75" fill="none" stroke="#2aa6c0" stroke-width="2.3" stroke-opacity="0.09"/><circle r="4.6" fill="none" stroke="#fff" stroke-width="1" stroke-dasharray="2 0.89" stroke-opacity="1"/></g>
<g transform="translate(544.6,185.6)"><circle r="7" fill="#3bb1c7" fill-opacity="0.5"/><circle r="5.75" fill="none" stroke="#2aa6c0" stroke-width="2.3" stroke-opacity="0.09"/><circle r="4.6" fill="none" stroke="#fff" stroke-width="1" stroke-dasharray="2 0.89" stroke-opacity="1"/></g>
<g transform="translate(464.6,194)"><circle r="7" fill="#3bb1c7" fill-opacity="0.5"/><circle r="5.75" fill="none" stroke="#2aa6c0" stroke-width="2.3" stroke-opacity="0.09"/><circle r="4.6" fill="none" stroke="#fff" stroke-width="1" stroke-dasharray="2 0.89" stroke-opacity="1"/></g>
<g transform="translate(485.2,200.2)"><circle r="7" fill="#3bb1c7" fill-opacity="0.5"/><circle r="5.75" fill="none" stroke="#2aa6c0" stroke-width="2.3" stroke-opacity="0.09"/><circle r="4.6" fill="none" stroke="#fff" stroke-width="1" stroke-dasharray="2 0.89" stroke-opacity="1"/></g>
<g transform="translate(485.2,200.2)"><circle r="7" fill="#3bb1c7" fill-opacity="0.5"/><circle r="5.75" fill="none" stroke="#2aa6c0" stroke-width="2.3" stroke-opacity="0.09"/><circle r="4.6" fill="none" stroke="#fff" stroke-width="1" stroke-dasharray="2 0.89" stroke-opacity="1"/></g>
<g transform="translate(465.6,214.8)"><circle r="7" fill="#3bb1c7" fill-opacity="0.5"/><circle r="5.75" fill="none" stroke="#2aa6c0" stroke-width="2.3" stroke-opacity="0.09"/><circle r="4.6" fill="none" stroke="#fff" stroke-width="1" stroke-dasharray="2 0.89" stroke-opacity="1"/></g>
<g transform="translate(471.6,262.4)"><circle r="7" fill="#3bb1c7" fill-opacity="0.5"/><circle r="5.75" fill="none" stroke="#2aa6c0" stroke-width="2.3" stroke-opacity="0.09"/><circle r="4.6" fill="none" stroke="#fff" stroke-width="1" stroke-dasharray="2 0.89" stroke-opacity="1"/></g>
<g transform="translate(477.4,257.4)"><circle r="7" fill="#3bb1c7" fill-opacity="0.5"/><circle r="5.75" fill="none" stroke="#2aa6c0" stroke-width="2.3" stroke-opacity="0.09"/><circle r="4.6" fill="none" stroke="#fff" stroke-width="1" stroke-dasharray="2 0.89" stroke-opacity="1"/></g>
<g transform="translate(517,257.6)"><circle r="7" fill="#3bb1c7" fill-opacity="0.5"/><circle r="5.75" fill="none" stroke="#2aa6c0" stroke-width="2.3" stroke-opacity="0.09"/><circle r="4.6" fill="none" stroke="#fff" stroke-width="1" stroke-dasharray="2 0.89" stroke-opacity="1"/></g>
<g transform="translate(518.4,260)"><circle r="7" fill="#3bb1c7" fill-opacity="0.5"/><circle r="5.75" fill="none" stroke="#2aa6c0" stroke-width="2.3" stroke-opacity="0.09"/><circle r="4.6" fill="none" stroke="#fff" stroke-width="1" stroke-dasharray="2 0.89" stroke-opacity="1"/></g>
<g transform="translate(533,260.4)"><circle r="7" fill="#3bb1c7" fill-opacity="0.5"/><circle r="5.75" fill="none" stroke="#2aa6c0" stroke-width="2.3" stroke-opacity="0.09"/><circle r="4.6" fill="none" stroke="#fff" stroke-width="1" stroke-dasharray="2 0.89" stroke-opacity="1"/></g>
<g transform="translate(545.2,259)"><circle r="7" fill="#3bb1c7" fill-opacity="0.5"/><circle r="5.75" fill="none" stroke="#2aa6c0" stroke-width="2.3" stroke-opacity="0.09"/><circle r="4.6" fill="none" stroke="#fff" stroke-width="1" stroke-dasharray="2 0.89" stroke-opacity="1"/></g>
<g transform="translate(545,288.6)"><circle r="7" fill="#3bb1c7" fill-opacity="0.5"/><circle r="5.75" fill="none" stroke="#2aa6c0" stroke-width="2.3" stroke-opacity="0.09"/><circle r="4.6" fill="none" stroke="#fff" stroke-width="1" stroke-dasharray="2 0.89" stroke-opacity="1"/></g>
<g transform="translate(551.2,296.4)"><circle r="7" fill="#3bb1c7" fill-opacity="0.5"/><circle r="5.75" fill="none" stroke="#2aa6c0" stroke-width="2.3" stroke-opacity="0.09"/><circle r="4.6" fill="none" stroke="#fff" stroke-width="1" stroke-dasharray="2 0.89" stroke-opacity="1"/></g>
<g transform="translate(499.6,314.4)"><circle r="7" fill="#3bb1c7" fill-opacity="0.5"/><circle r="5.75" fill="none" stroke="#2aa6c0" stroke-width="2.3" stroke-opacity="0.09"/><circle r="4.6" fill="none" stroke="#fff" stroke-width="1" stroke-dasharray="2 0.89" stroke-opacity="1"/></g>
<g transform="translate(517,399.6)"><circle r="7" fill="#3bb1c7" fill-opacity="0.5"/><circle r="5.75" fill="none" stroke="#2aa6c0" stroke-width="2.3" stroke-opacity="0.09"/><circle r="4.6" fill="none" stroke="#fff" stroke-width="1" stroke-dasharray="2 0.89" stroke-opacity="1"/></g>
<g transform="translate(542.8,391)"><circle r="7" fill="#3bb1c7" fill-opacity="0.5"/><circle r="5.75" fill="none" stroke="#2aa6c0" stroke-width="2.3" stroke-opacity="0.09"/><circle r="4.6" fill="none" stroke="#fff" stroke-width="1" stroke-dasharray="2 0.89" stroke-opacity="1"/></g>
<g transform="translate(550,392.4)"><circle r="7" fill="#3bb1c7" fill-opacity="0.5"/><circle r="5.75" fill="none" stroke="#2aa6c0" stroke-width="2.3" stroke-opacity="0.09"/><circle r="4.6" fill="none" stroke="#fff" stroke-width="1" stroke-dasharray="2 0.89" stroke-opacity="1"/></g>
<g transform="translate(544.8,420)"><circle r="7" fill="#3bb1c7" fill-opacity="0.5"/><circle r="5.75" fill="none" stroke="#2aa6c0" stroke-width="2.3" stroke-opacity="0.09"/><circle r="4.6" fill="none" stroke="#fff" stroke-width="1" stroke-dasharray="2 0.89" stroke-opacity="1"/></g>
<g transform="translate(580.6,425.25)"><circle r="7" fill="#3bb1c7" fill-opacity="0.5"/><circle r="5.75" fill="none" stroke="#2aa6c0" stroke-width="2.3" stroke-opacity="0.09"/><circle r="4.6" fill="none" stroke="#fff" stroke-width="1" stroke-dasharray="2 0.89" stroke-opacity="1"/></g>
<g transform="translate(602,158.6)"><circle r="7" fill="#3bb1c7" fill-opacity="0.5"/><circle r="5.75" fill="none" stroke="#2aa6c0" stroke-width="2.3" stroke-opacity="0.09"/><circle r="4.6" fill="none" stroke="#fff" stroke-width="1" stroke-dasharray="2 0.89" stroke-opacity="1"/></g>
<g transform="translate(601.6,176)"><circle r="7" fill="#3bb1c7" fill-opacity="0.5"/><circle r="5.75" fill="none" stroke="#2aa6c0" stroke-width="2.3" stroke-opacity="0.09"/><circle r="4.6" fill="none" stroke="#fff" stroke-width="1" stroke-dasharray="2 0.89" stroke-opacity="1"/></g>
<g transform="translate(601.6,181.6)"><circle r="7" fill="#3bb1c7" fill-opacity="0.5"/><circle r="5.75" fill="none" stroke="#2aa6c0" stroke-width="2.3" stroke-opacity="0.09"/><circle r="4.6" fill="none" stroke="#fff" stroke-width="1" stroke-dasharray="2 0.89" stroke-opacity="1"/></g>
</g>
<line x1="79.6" y1="23.8" x2="79.6" y2="442.7" stroke="#000" stroke-width="1.7"/>
<line x1="78.75" y1="441.85" x2="638" y2="441.85" stroke="#000" stroke-width="3.2" stroke-opacity="0.07"/>
<line x1="78.75" y1="441.85" x2="638" y2="441.85" stroke="#000" stroke-width="1.7"/>
<text transform="translate(359.1,17.4) rotate(0.03)" text-anchor="middle" font-size="23.37">Training Dataset Costs Over Time</text>
<text transform="translate(358.9,520.45) rotate(0.03)" text-anchor="middle" font-size="18.3">Model Release Date</text>
<text transform="translate(15,233.4) rotate(-90)" text-anchor="middle" font-size="18.38">Training Dataset Cost (USD)</text>
<text transform="translate(67.5,135.51) rotate(0.03)" text-anchor="end" font-size="18.3">$1B</text>
<text transform="translate(67.5,291.95) rotate(0.03)" text-anchor="end" font-size="18.3">$1M</text>
<text transform="translate(67.5,447.75) rotate(0.03)" text-anchor="end" font-size="18.3">$1K</text>
<text transform="translate(79.2,473.3) rotate(-45)" text-anchor="middle" font-size="18.5" dy="6.2">2016</text>
<text transform="translate(138.5,473.3) rotate(-45)" text-anchor="middle" font-size="18.5" dy="6.2">2017</text>
<text transform="translate(197.63,473.3) rotate(-45)" text-anchor="middle" font-size="18.5" dy="6.2">2018</text>
<text transform="translate(256.77,473.3) rotate(-45)" text-anchor="middle" font-size="18.5" dy="6.2">2019</text>
<text transform="translate(315.9,473.3) rotate(-45)" text-anchor="middle" font-size="18.5" dy="6.2">2020</text>
<text transform="translate(375.2,473.3) rotate(-45)" text-anchor="middle" font-size="18.5" dy="6.2">2021</text>
<text transform="translate(434.33,473.3) rotate(-45)" text-anchor="middle" font-size="18.5" dy="6.2">2022</text>
<text transform="translate(493.47,473.3) rotate(-45)" text-anchor="middle" font-size="18.5" dy="6.2">2023</text>
<text transform="translate(552.6,473.3) rotate(-45)" text-anchor="middle" font-size="18.5" dy="6.2">2024</text>
<text transform="translate(611.9,473.3) rotate(-45)" text-anchor="middle" font-size="18.5" dy="6.2">2025</text>
</svg></body></html>
